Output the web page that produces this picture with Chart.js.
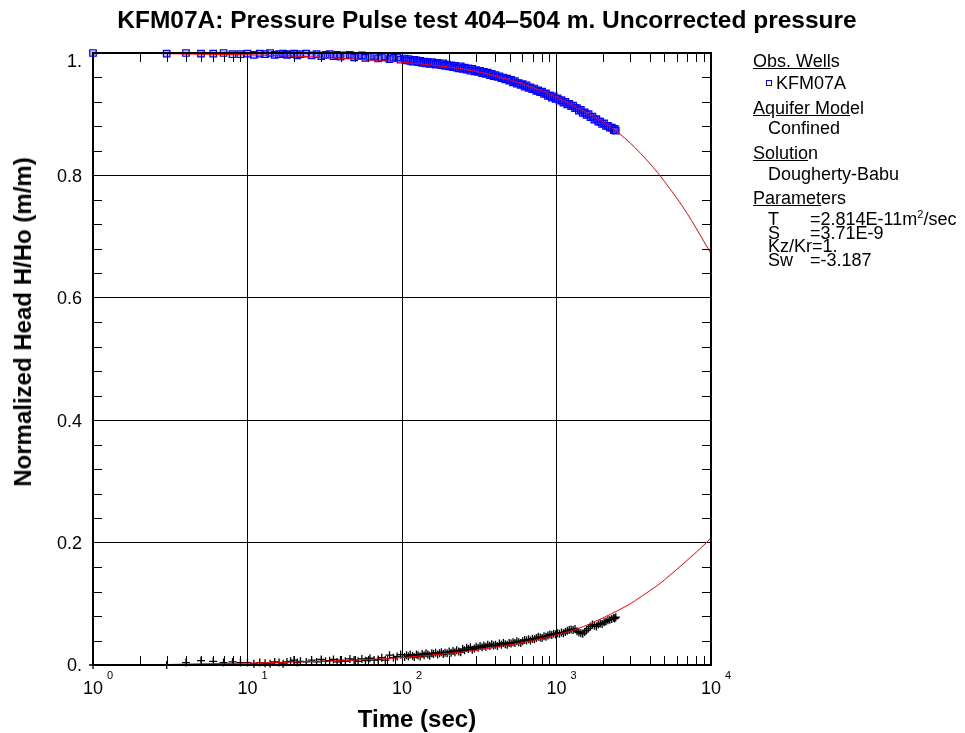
<!DOCTYPE html>
<html>
<head>
<meta charset="utf-8">
<script src="https://cdn.jsdelivr.net/npm/chart.js@4.4.1/dist/chart.umd.min.js"></script>
<style>
  body { margin: 0; background: #fff; }
  #wrap { position: relative; width: 965px; height: 733px; font-family: Arial, "Liberation Sans", sans-serif; color: #000; }
  #chart { position: absolute; left: 0; top: 0; }
  .t { position: absolute; white-space: nowrap; line-height: 18px; font-size: 18px; }
  .bold { font-weight: bold; font-size: 24px; line-height: 24px; }
  .mark { display: inline-block; width: 4px; height: 4px; border: 1px solid #0000ff; margin-right: 4px; vertical-align: 3px; }
  sup { font-size: 11px; line-height: 0; vertical-align: 7px; }
</style>
</head>
<body>
<div id="wrap">
  <canvas id="chart" width="965" height="733"></canvas>

  <div class="t bold" style="left:487px; top:8px; font-size:24.5px; transform:translateX(-50%);">KFM07A: Pressure Pulse test 404–504 m. Uncorrected pressure</div>
  <div class="t bold" style="left:417px; top:707px; transform:translateX(-50%);">Time (sec)</div>
  <div class="t bold" style="left:23px; top:322px; transform:translate(-50%,-50%) rotate(-90deg);">Normalized Head H/Ho (m/m)</div>

  <div class="t" style="left:753px; top:52px;"><u>Obs. Well</u>s</div>
  <div class="t" style="left:766px; top:74px;"><span class="mark"></span>KFM07A</div>
  <div class="t" style="left:753px; top:99px;"><u>Aquifer Mod</u>el</div>
  <div class="t" style="left:768px; top:119px;">Confined</div>
  <div class="t" style="left:753px; top:144px;"><u>Solutio</u>n</div>
  <div class="t" style="left:768px; top:165px;">Dougherty-Babu</div>
  <div class="t" style="left:753px; top:189px;"><u>Paramet</u>ers</div>
  <div class="t" style="left:768px; top:210px;">T</div>
  <div class="t" style="left:810px; top:210px;">=2.814E-11m<sup>2</sup>/sec</div>
  <div class="t" style="left:768px; top:224px;">S</div>
  <div class="t" style="left:810px; top:224px;">=3.71E-9</div>
  <div class="t" style="left:768px; top:237px;">Kz/Kr=1.</div>
  <div class="t" style="left:768px; top:251px;">Sw</div>
  <div class="t" style="left:810px; top:251px;">=-3.187</div>
</div>

<script>
// observed times (sec), shared by both observed series
const obsTime = [1, 3, 4, 5, 6, 7, 8, 9,
  10, 11, 12, 13, 14, 15, 16, 17, 18, 19, 20, 21, 22,
  24, 26, 28, 30, 32, 34, 36, 38, 40,
  43, 46, 49, 52, 55, 58, 62, 66, 70, 74, 78, 83, 88, 93, 98,
  104, 107, 110, 113, 117, 120, 124, 127, 131, 135, 139, 143, 147, 151, 156, 160, 165, 170, 175, 180, 185, 190, 196,
  202, 208, 214, 220, 226, 233, 240, 247, 254, 262, 269, 277, 285, 294, 302, 311, 320, 330, 339, 349, 359, 370, 381, 392,
  403, 415, 427, 440, 453, 466, 480, 494, 508, 523, 538, 554, 570, 587, 604, 622, 640, 659, 678, 698, 719, 740, 762, 784,
  807, 830, 855, 880, 906, 932, 959, 987, 1016, 1046, 1077, 1108, 1141, 1174, 1209, 1244, 1281, 1318, 1357, 1396, 1437, 1479, 1523, 1567,
  1613, 1660, 1709, 1759, 1811, 1863, 1918, 1974, 2032, 2091, 2153, 2215, 2280, 2347, 2383, 2420];

// KFM07A normalized head (blue squares)
const obsHead = [1.000, 0.999, 1.000, 0.999, 0.999, 1.000, 0.998, 0.998,
  0.999, 0.997, 0.999, 0.998, 1.000, 0.997, 0.998, 0.999, 0.997, 0.998, 0.999, 0.996, 0.998,
  0.999, 0.996, 0.998, 0.995, 0.997, 0.998, 0.995, 0.997, 0.994,
  0.996, 0.997, 0.993, 0.995, 0.996, 0.992, 0.994, 0.995, 0.991, 0.993, 0.994, 0.990, 0.992, 0.993, 0.989,
  0.991, 0.988, 0.990, 0.987, 0.986, 0.989, 0.988, 0.985, 0.987, 0.984, 0.986, 0.983, 0.985, 0.982, 0.985, 0.983, 0.981, 0.984, 0.982, 0.980, 0.983, 0.979, 0.981,
  0.978, 0.980, 0.977, 0.979, 0.976, 0.975, 0.978, 0.974, 0.976, 0.973, 0.975, 0.971, 0.974, 0.970, 0.972, 0.969, 0.971, 0.967, 0.969, 0.966, 0.968, 0.964, 0.966, 0.962,
  0.964, 0.961, 0.962, 0.959, 0.960, 0.957, 0.958, 0.955, 0.956, 0.952, 0.954, 0.950, 0.951, 0.948, 0.949, 0.945, 0.947, 0.943, 0.944, 0.941, 0.942, 0.938, 0.939, 0.936,
  0.937, 0.933, 0.934, 0.930, 0.931, 0.927, 0.929, 0.925, 0.926, 0.922, 0.923, 0.919, 0.920, 0.916, 0.917, 0.913, 0.914, 0.910, 0.910, 0.906, 0.907, 0.902, 0.903, 0.899,
  0.900, 0.895, 0.896, 0.891, 0.892, 0.888, 0.888, 0.884, 0.885, 0.881, 0.881, 0.878, 0.878, 0.874, 0.876, 0.873];

// complementary head 1 - H/Ho (black crosses)
const obsRecovery = [0.000, 0.000, 0.004, 0.007, 0.006, 0.004, 0.005, 0.004,
  0.004, 0.002, 0.004, 0.003, 0.002, 0.005, 0.004, 0.002, 0.005, 0.006, 0.008, 0.004, 0.006,
  0.005, 0.008, 0.005, 0.009, 0.006, 0.007, 0.009, 0.005, 0.008,
  0.006, 0.010, 0.008, 0.006, 0.010, 0.007, 0.011, 0.008, 0.009, 0.012, 0.008, 0.016, 0.012, 0.014, 0.017,
  0.013, 0.016, 0.014, 0.017, 0.015, 0.013, 0.017, 0.016, 0.014, 0.018, 0.016, 0.019, 0.017, 0.015, 0.019, 0.018, 0.020, 0.017, 0.019, 0.021, 0.018, 0.020, 0.019,
  0.022, 0.020, 0.023, 0.021, 0.024, 0.022, 0.021, 0.026, 0.024, 0.028, 0.026, 0.029, 0.025, 0.027, 0.030, 0.028, 0.031, 0.029, 0.032, 0.030, 0.033, 0.031, 0.034, 0.032,
  0.033, 0.031, 0.035, 0.033, 0.036, 0.034, 0.033, 0.036, 0.035, 0.037, 0.036, 0.039, 0.037, 0.036, 0.039, 0.041, 0.040, 0.042, 0.040, 0.043, 0.042, 0.044, 0.046, 0.045,
  0.044, 0.047, 0.046, 0.048, 0.050, 0.049, 0.051, 0.050, 0.052, 0.051, 0.053, 0.052, 0.054, 0.056, 0.057, 0.058, 0.057, 0.059, 0.055, 0.053, 0.052, 0.051, 0.054, 0.057,
  0.060, 0.063, 0.066, 0.064, 0.063, 0.066, 0.068, 0.067, 0.070, 0.071, 0.073, 0.074, 0.075, 0.077, 0.076, 0.078];

// Dougherty-Babu type curves (red)
const modelTime = [1, 2, 3, 5, 10, 20, 30, 50, 100, 200, 300, 500, 700, 1000, 1500, 2000,
  2500, 3000, 3500, 4000, 4500, 5000, 5500, 6000, 7000, 8000, 9000, 10000];
const modelHead = [1.000, 0.9995, 0.999, 0.998, 0.997, 0.995, 0.993, 0.990, 0.985, 0.977, 0.970, 0.956, 0.944, 0.928, 0.905, 0.887,
  0.870, 0.853, 0.836, 0.820, 0.805, 0.790, 0.776, 0.763, 0.738, 0.714, 0.692, 0.672];
const modelRecovery = [0.000, 0.0003, 0.0008, 0.002, 0.003, 0.005, 0.006, 0.008, 0.012, 0.019, 0.024, 0.033, 0.040, 0.049, 0.063, 0.077,
  0.089, 0.100, 0.111, 0.121, 0.130, 0.139, 0.148, 0.156, 0.171, 0.184, 0.196, 0.208];

// axis ticks
const xTickValues = [1, 10, 100, 1000, 10000];
const xTickExponents = ["0", "1", "2", "3", "4"];
const yTickValues = [0, 0.2, 0.4, 0.6, 0.8, 1.0];
const yTickLabels = ["0.", "0.2", "0.4", "0.6", "0.8", "1."];
const yMinorTicks = [0.04, 0.08, 0.12, 0.16, 0.24, 0.28, 0.32, 0.36, 0.44, 0.48, 0.52, 0.56,
  0.64, 0.68, 0.72, 0.76, 0.84, 0.88, 0.92, 0.96];
const xMinorTicks = [];
[1, 10, 100, 1000].forEach((d) => {
  for (let m = 2; m <= 9; m++) xMinorTicks.push(d * m);
});

function pts(xs, ys) {
  return xs.map((x, i) => ({ x, y: ys[i] }));
}

const framePlugin = {
  id: "frame",
  afterDraw(chart) {
    const { ctx, chartArea: a } = chart;
    const x = chart.scales.x;
    const y = chart.scales.y;
    ctx.save();
    ctx.strokeStyle = "#000";
    ctx.lineWidth = 1;
    ctx.beginPath();
    yMinorTicks.forEach((v) => {
      const py = Math.round(y.getPixelForValue(v)) + 0.5;
      ctx.moveTo(a.left, py); ctx.lineTo(a.left + 9, py);
      ctx.moveTo(a.right, py); ctx.lineTo(a.right - 9, py);
    });
    xMinorTicks.forEach((v) => {
      const px = Math.round(x.getPixelForValue(v)) + 0.5;
      ctx.moveTo(px, a.top); ctx.lineTo(px, a.top + 9);
      ctx.moveTo(px, a.bottom); ctx.lineTo(px, a.bottom - 9);
    });
    ctx.stroke();
    ctx.lineWidth = 2;
    ctx.strokeRect(a.left, a.top, a.right - a.left, a.bottom - a.top);

    ctx.fillStyle = "#000";
    ctx.font = "18px Arial, 'Liberation Sans', sans-serif";
    ctx.textAlign = "right";
    ctx.textBaseline = "middle";
    yTickValues.forEach((v, i) => {
      let py = y.getPixelForValue(v) + 1.5;
      if (v === 1) py += 8;
      ctx.fillText(yTickLabels[i], 82, py);
    });

    ctx.textBaseline = "alphabetic";
    xTickValues.forEach((v, i) => {
      const px = x.getPixelForValue(v);
      ctx.font = "18px Arial, 'Liberation Sans', sans-serif";
      ctx.textAlign = "center";
      ctx.fillText("10", px, 694);
      const w = ctx.measureText("10").width;
      ctx.font = "11px Arial, 'Liberation Sans', sans-serif";
      ctx.textAlign = "left";
      ctx.fillText(xTickExponents[i], px + w / 2 + 4, 679);
    });
    ctx.restore();
  }
};

new Chart(document.getElementById("chart"), {
  type: "scatter",
  data: {
    datasets: [
      { label: "Model H/Ho", data: pts(modelTime, modelHead), showLine: true, borderColor: "#ff0000",
        borderWidth: 1, pointRadius: 0, cubicInterpolationMode: "monotone" },
      { label: "Model 1-H/Ho", data: pts(modelTime, modelRecovery), showLine: true, borderColor: "#ff0000",
        borderWidth: 1, pointRadius: 0, cubicInterpolationMode: "monotone" },
      { label: "KFM07A", data: pts(obsTime, obsHead), pointStyle: "rect", pointRadius: 4.6, clip: 6,
        borderColor: "#0000ff", backgroundColor: "rgba(60,60,255,0.35)", borderWidth: 1.2 },
      { label: "KFM07A 1-H/Ho", data: pts(obsTime, obsRecovery), pointStyle: "cross", pointRadius: 4, clip: 6,
        borderColor: "#000", borderWidth: 1.3 }
    ]
  },
  options: {
    responsive: false,
    animation: false,
    events: [],
    layout: { padding: { left: 0, top: 53, right: 254, bottom: 0 } },
    plugins: { legend: { display: false }, title: { display: false }, tooltip: { enabled: false } },
    scales: {
      x: {
        type: "logarithmic", min: 1, max: 10000,
        afterBuildTicks: (s) => { s.ticks = xTickValues.map((v) => ({ value: v })); },
        afterFit: (s) => { s.height = 68; },
        ticks: { display: false },
        grid: { color: "#000", lineWidth: 1, drawTicks: false },
        border: { display: false }
      },
      y: {
        type: "linear", min: 0, max: 1,
        afterBuildTicks: (s) => { s.ticks = yTickValues.map((v) => ({ value: v })); },
        afterFit: (s) => { s.width = 93; },
        ticks: { display: false },
        grid: { color: "#000", lineWidth: 1, drawTicks: false },
        border: { display: false }
      }
    }
  },
  plugins: [framePlugin]
});
</script>
</body>
</html>
